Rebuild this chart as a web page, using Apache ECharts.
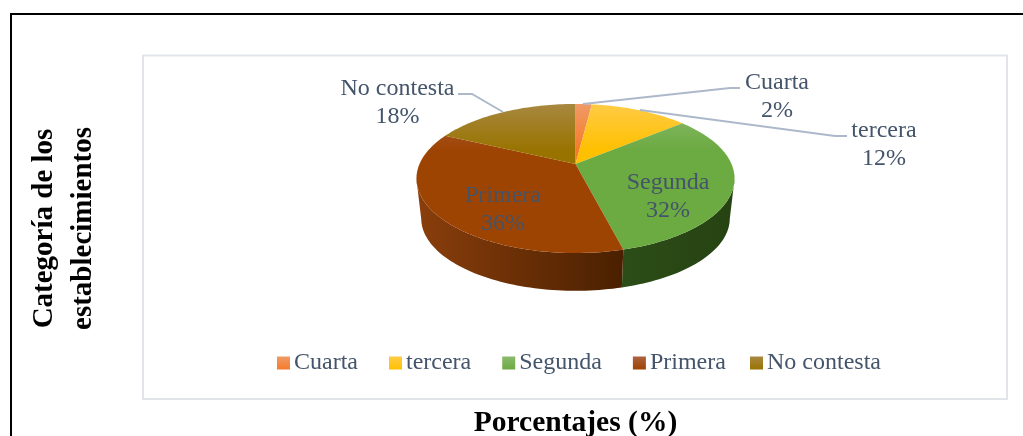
<!DOCTYPE html>
<html>
<head>
<meta charset="utf-8">
<style>
  html, body { margin: 0; padding: 0; background: #fff; }
  #chart { width: 1023px; height: 436px; }
</style>
</head>
<body>
<div id="chart"></div>
<script src="https://cdn.jsdelivr.net/npm/echarts@6/dist/echarts.min.js"></script>
<script>
const categories = ["Cuarta", "tercera", "Segunda", "Primera", "No contesta"];
const percentages = [2, 12, 32, 36, 18];

const topColors = ["#F47B2A", "#FFC000", "#6CAA42", "#9E4403", "#997300"];
const topLights = ["#F09A66", "#FFCB45", "#8ABB6C", "#AE6240", "#A88840"];
const wallColors = [
  ["#8f4a1d", "#8f4a1d"],
  ["#997300", "#997300"],
  ["#2c4d17", "#264212"],
  ["#8a3e0c", "#4a2000"],
  ["#5c4500", "#5c4500"],
];

const fontFamily = "'Liberation Serif', 'Times New Roman', serif";
const labelColor = "#44546a";
const leaderColor = "#adb9ca";

// pie geometry: apex on screen, then a perspective squash of the unit circle
const apexX = 575.5;
const apexY = 164;
const scaleX = 156;
const scaleY = 71.7;
const tilt = 0.1946;
const rimMidY = 178.5;
const wallDrop = 40;
const wallShrink = 0.97;

function rimPoint(angle) {
  const u = Math.sin(angle);
  const v = -Math.cos(angle);
  const w = 1 - tilt * v;
  return [apexX + (scaleX * u) / w, apexY + (scaleY * v) / w];
}

function wallPoint(p) {
  return [
    apexX + (p[0] - apexX) * wallShrink,
    rimMidY + (p[1] - rimMidY) * wallShrink + wallDrop,
  ];
}

const total = percentages.reduce((a, b) => a + b, 0);

function renderSlice(index) {
  return function (params, api) {
    let before = 0;
    for (let i = 0; i < index; i++) before += percentages[i];
    const start = (before / total) * Math.PI * 2;
    const end = ((before + api.value(0)) / total) * Math.PI * 2;
    const steps = Math.max(6, Math.ceil((end - start) * 40));
    const rim = [];
    for (let s = 0; s <= steps; s++) {
      rim.push(rimPoint(start + ((end - start) * s) / steps));
    }

    const children = [];
    const front = rim.filter((p) => p[1] >= rimMidY);
    if (front.length > 1) {
      const xs = front.map((p) => p[0]);
      children.push({
        type: "polygon",
        shape: { points: front.concat(front.map(wallPoint).reverse()) },
        style: {
          fill: new echarts.graphic.LinearGradient(
            Math.min(...xs), 0, Math.max(...xs), 0,
            [
              { offset: 0, color: wallColors[index][0] },
              { offset: 1, color: wallColors[index][1] },
            ],
            true
          ),
        },
      });
    }
    children.push({
      type: "polygon",
      shape: { points: [[apexX, apexY]].concat(rim) },
      style: {
        fill: new echarts.graphic.LinearGradient(
          0, 104, 0, 150,
          [
            { offset: 0, color: topLights[index] },
            { offset: 1, color: topColors[index] },
          ],
          true
        ),
      },
    });
    return { type: "group", children };
  };
}

const legendGradient = (i) => ({
  type: "linear", x: 0, y: 0, x2: 0, y2: 1,
  colorStops: [
    { offset: 0, color: topLights[i] },
    { offset: 1, color: topColors[i] },
  ],
});

const legendItem = (name) => ({
  name,
  itemStyle: { color: legendGradient(categories.indexOf(name)) },
});

const legendBase = {
  top: 351,
  icon: "rect",
  itemWidth: 13,
  itemHeight: 13,
  itemGap: 31,
  padding: 0,
  selectedMode: false,
  textStyle: { color: labelColor, fontFamily, fontSize: 24, padding: [0, 0, 0, -1] },
};

const sliceSeries = categories.map((name, i) => ({
  name,
  type: "custom",
  coordinateSystem: "none",
  silent: true,
  z: 2,
  itemStyle: { color: topColors[i] },
  renderItem: renderSlice(i),
  data: [[percentages[i]]],
}));

function label(text, x, y) {
  return {
    type: "text",
    z: 6,
    style: {
      text, x, y,
      fill: labelColor,
      font: "24px " + fontFamily,
      align: "center",
      verticalAlign: "middle",
      lineHeight: 28,
    },
  };
}

function leader(points) {
  return {
    type: "polyline",
    z: 5,
    shape: { points },
    style: { stroke: leaderColor, lineWidth: 2, fill: null },
  };
}

const chart = echarts.init(document.getElementById("chart"), null, { renderer: "canvas" });

chart.setOption({
  animation: false,
  backgroundColor: "#ffffff",
  legend: [
    { ...legendBase, left: 277, data: categories.slice(0, 4).map(legendItem) },
    { ...legendBase, left: 750, data: categories.slice(4).map(legendItem) },
  ],
  graphic: [
    {
      type: "polyline", z: 0,
      shape: { points: [[11, 440], [11, 14], [1024, 14]] },
      style: { stroke: "#000", lineWidth: 2, fill: null },
    },
    {
      type: "rect", z: 1,
      shape: { x: 143, y: 55.5, width: 864, height: 343.5 },
      style: { fill: "#fff", stroke: "#e1e5ea", lineWidth: 2 },
    },
    {
      type: "text", z: 6, rotation: Math.PI / 2, x: 64, y: 228.5,
      style: {
        text: "Categoría de los\nestablecimientos",
        fill: "#000", font: "bold 29px " + fontFamily,
        align: "center", verticalAlign: "middle", lineHeight: 39,
      },
    },
    {
      type: "text", z: 6, x: 575.5, y: 423,
      style: {
        text: "Porcentajes (%)",
        fill: "#000", font: "bold 29.5px " + fontFamily,
        align: "center", verticalAlign: "middle",
      },
    },
    leader([[583, 104], [730, 88], [740, 88]]),
    leader([[640, 110], [835, 136], [847, 136]]),
    leader([[503, 112], [472, 94], [458, 94]]),
    label("Cuarta\n2%", 777, 96.5),
    label("tercera\n12%", 884, 145),
    label("No contesta\n18%", 397.5, 102.5),
    label("Segunda\n32%", 668, 197),
    label("Primera\n36%", 503, 209.5),
  ],
  series: sliceSeries,
});
</script>
</body>
</html>
